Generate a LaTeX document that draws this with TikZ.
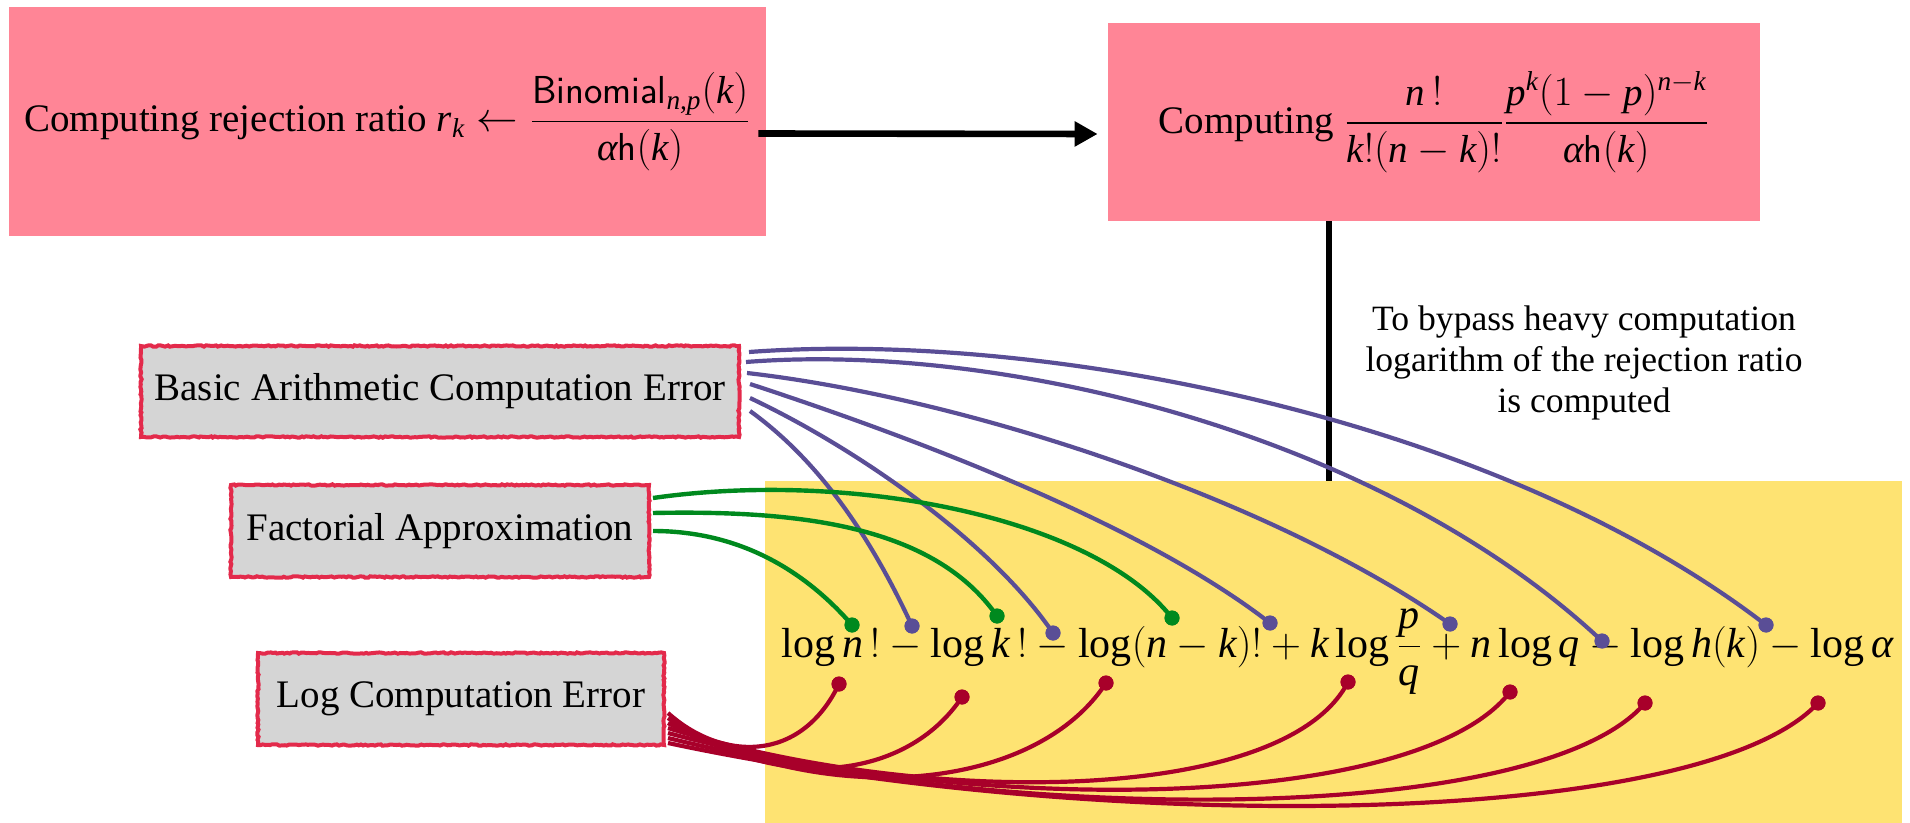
\documentclass[tikz,border=0pt]{standalone}
\usepackage{amsmath}
\usepackage{fontspec}
\setmainfont{Liberation Serif}[NFSSFamily=libserif]
% Times-style italic letters in math
\DeclareSymbolFont{letters}{TU}{libserif}{m}{it}
\renewcommand{\alpha}{\mathord{\textit{\symbol{"03B1}}}}
\usetikzlibrary{arrows.meta,calc,decorations.pathmorphing}

\definecolor{boxpink}{HTML}{FF8596}
\definecolor{boxyellow}{HTML}{FEE372}
\definecolor{boxgray}{HTML}{D5D5D5}
\definecolor{boxred}{HTML}{E32A4B}
\definecolor{arithcol}{HTML}{5A4E96}
\definecolor{factcol}{HTML}{00891E}
\definecolor{logcol}{HTML}{A8002A}

\begin{document}
\mathcode`\,="612C
\begin{tikzpicture}[x=0.5pt,y=-0.5pt,
  pinkbox/.style={fill=boxpink, inner sep=0pt, font=\fontsize{19.5}{23}\selectfont},
  errbox/.style={fill=boxgray, draw=boxred, line width=2pt, inner sep=0pt,
    decorate, decoration={random steps, segment length=1.2pt, amplitude=0.35pt},
    font=\fontsize{19.5}{23}\selectfont},
  arrowline/.style={line width=3.3pt, -{Triangle[length=11.5pt,width=12pt]}},
  stemline/.style={line width=3pt},
  arith/.style={draw=arithcol, line width=2.1pt},
  fact/.style={draw=factcol, line width=2.2pt},
  logerr/.style={draw=logcol, line width=2.1pt},
  dotnode/.style={circle, fill=#1, inner sep=0pt, minimum size=7.5pt},
]
\useasboundingbox (0,0) rectangle (1910,823);

% log-domain region
\node[fill=boxyellow, inner sep=0pt, minimum width=568.5pt, minimum height=174.5pt] (logbox) at (1333.5,655.5) {};

% the two computation steps
\node[pinkbox, minimum width=378.5pt, minimum height=114.5pt] (ratio) at (387.5,121.5)
  {Computing rejection ratio $r_k \leftarrow \dfrac{\mathsf{Binomial}_{n,p}(k)}{\alpha\mathsf{h}(k)}$};
\node[pinkbox, minimum width=326pt, minimum height=99pt] (logratio) at (1434,122)
  {Computing $\dfrac{n\,!}{k!(n-k)!}\dfrac{p^k(1-p)^{n-k}}{\alpha\mathsf{h}(k)}$};
\draw[arrowline] ([shift={(-4pt,-6pt)}]ratio.east) -- ([shift={(-5pt,-6pt)}]logratio.west);

% stem down to the logarithmic form
\coordinate (vtop) at ([xshift=-52.5pt]logratio.south);
\coordinate (vbot) at (vtop |- logbox.north);
\draw[stemline] (vtop) -- (vbot);
\node[align=center, font=\fontsize{17.8}{20.5}\selectfont] (note) at (1584,363)
  {To bypass heavy computation\\logarithm of the rejection ratio\\is computed};

% logarithm of the ratio
\node[anchor=base, font=\fontsize{21}{25}\selectfont] (formula) at (1337.5,657)
  {$\displaystyle \log n\,! - \log k\,! - \log(n-k)! + k\log\frac{p}{q} + n\log q - \log h(k) - \log\alpha$};

% error sources
\node[errbox, minimum width=299pt, minimum height=45.5pt] (basic) at (440,391.5) {Basic Arithmetic Computation Error};
\node[errbox, minimum width=209pt, minimum height=46pt] (fact) at (440,531) {Factorial Approximation};
\node[errbox, minimum width=203pt, minimum height=46pt] (logc) at (461,699) {Log Computation Error};

% attachment points on the formula
\node[dotnode=factcol] (g1) at (852,625) {};
\node[dotnode=factcol] (g2) at (997,616) {};
\node[dotnode=factcol] (g3) at (1172,618) {};
\node[dotnode=arithcol] (p1) at (912,626) {};
\node[dotnode=arithcol] (p2) at (1053,633) {};
\node[dotnode=arithcol] (p3) at (1270,623) {};
\node[dotnode=arithcol] (p4) at (1450,624) {};
\node[dotnode=arithcol] (p5) at (1602,641) {};
\node[dotnode=arithcol] (p6) at (1766,625) {};
\node[dotnode=logcol] (r1) at (839,684) {};
\node[dotnode=logcol] (r2) at (962,697) {};
\node[dotnode=logcol] (r3) at (1106,683) {};
\node[dotnode=logcol] (r4) at (1348,682) {};
\node[dotnode=logcol] (r5) at (1510,692) {};
\node[dotnode=logcol] (r6) at (1645,703) {};
\node[dotnode=logcol] (r7) at (1818,703) {};

% basic arithmetic connectors
\draw[arith] ($(basic.east)+(8,-39.5)$) .. controls (1050,330) and (1500,420) .. (p6.center);
\draw[arith] ($(basic.east)+(5,-29.5)$) .. controls (999,342) and (1379,432) .. (p5.center);
\draw[arith] ($(basic.east)+(6,-18.5)$) .. controls (965,398) and (1270,498) .. (p4.center);
\draw[arith] ($(basic.east)+(9,-7.5)$) .. controls (918,439) and (1144,525) .. (p3.center);
\draw[arith] ($(basic.east)+(9,6.5)$) .. controls (858,449) and (991,542) .. (p2.center);
\draw[arith] ($(basic.east)+(9,19.5)$) .. controls (818,460) and (870,535) .. (p1.center);

% factorial connectors
\draw[fact] ($(fact.east)+(2,-33)$) .. controls (849,470) and (1092,516) .. (g3.center);
\draw[fact] ($(fact.east)+(2,-18)$) .. controls (801,510) and (934,526) .. (g2.center);
\draw[fact] ($(fact.east)+(2,0)$) .. controls (741,531) and (806,572) .. (g1.center);

% log computation connectors
\draw[logerr] ($(logc.east)+(2,14)$) .. controls (720,760) and (800,765) .. (r1.center);
\draw[logerr] ($(logc.east)+(2,19)$) .. controls (778,795) and (907,780) .. (r2.center);
\draw[logerr] ($(logc.east)+(2,24)$) .. controls (832,810) and (1036,790) .. (r3.center);
\draw[logerr] ($(logc.east)+(2,29)$) .. controls (923,808) and (1285,805) .. (r4.center);
\draw[logerr] ($(logc.east)+(2,34)$) .. controls (984,818) and (1419,810) .. (r5.center);
\draw[logerr] ($(logc.east)+(2,39)$) .. controls (1035,828) and (1544,822) .. (r6.center);
\draw[logerr] ($(logc.east)+(2,44)$) .. controls (1100,835) and (1700,830) .. (r7.center);

% redraw dots over the connector ends
\foreach \d/\c in {g1/factcol,g2/factcol,g3/factcol,p1/arithcol,p2/arithcol,p3/arithcol,p4/arithcol,p5/arithcol,p6/arithcol,r1/logcol,r2/logcol,r3/logcol,r4/logcol,r5/logcol,r6/logcol,r7/logcol}
  \fill[\c] (\d) circle[radius=3.75pt];
\end{tikzpicture}
\end{document}
